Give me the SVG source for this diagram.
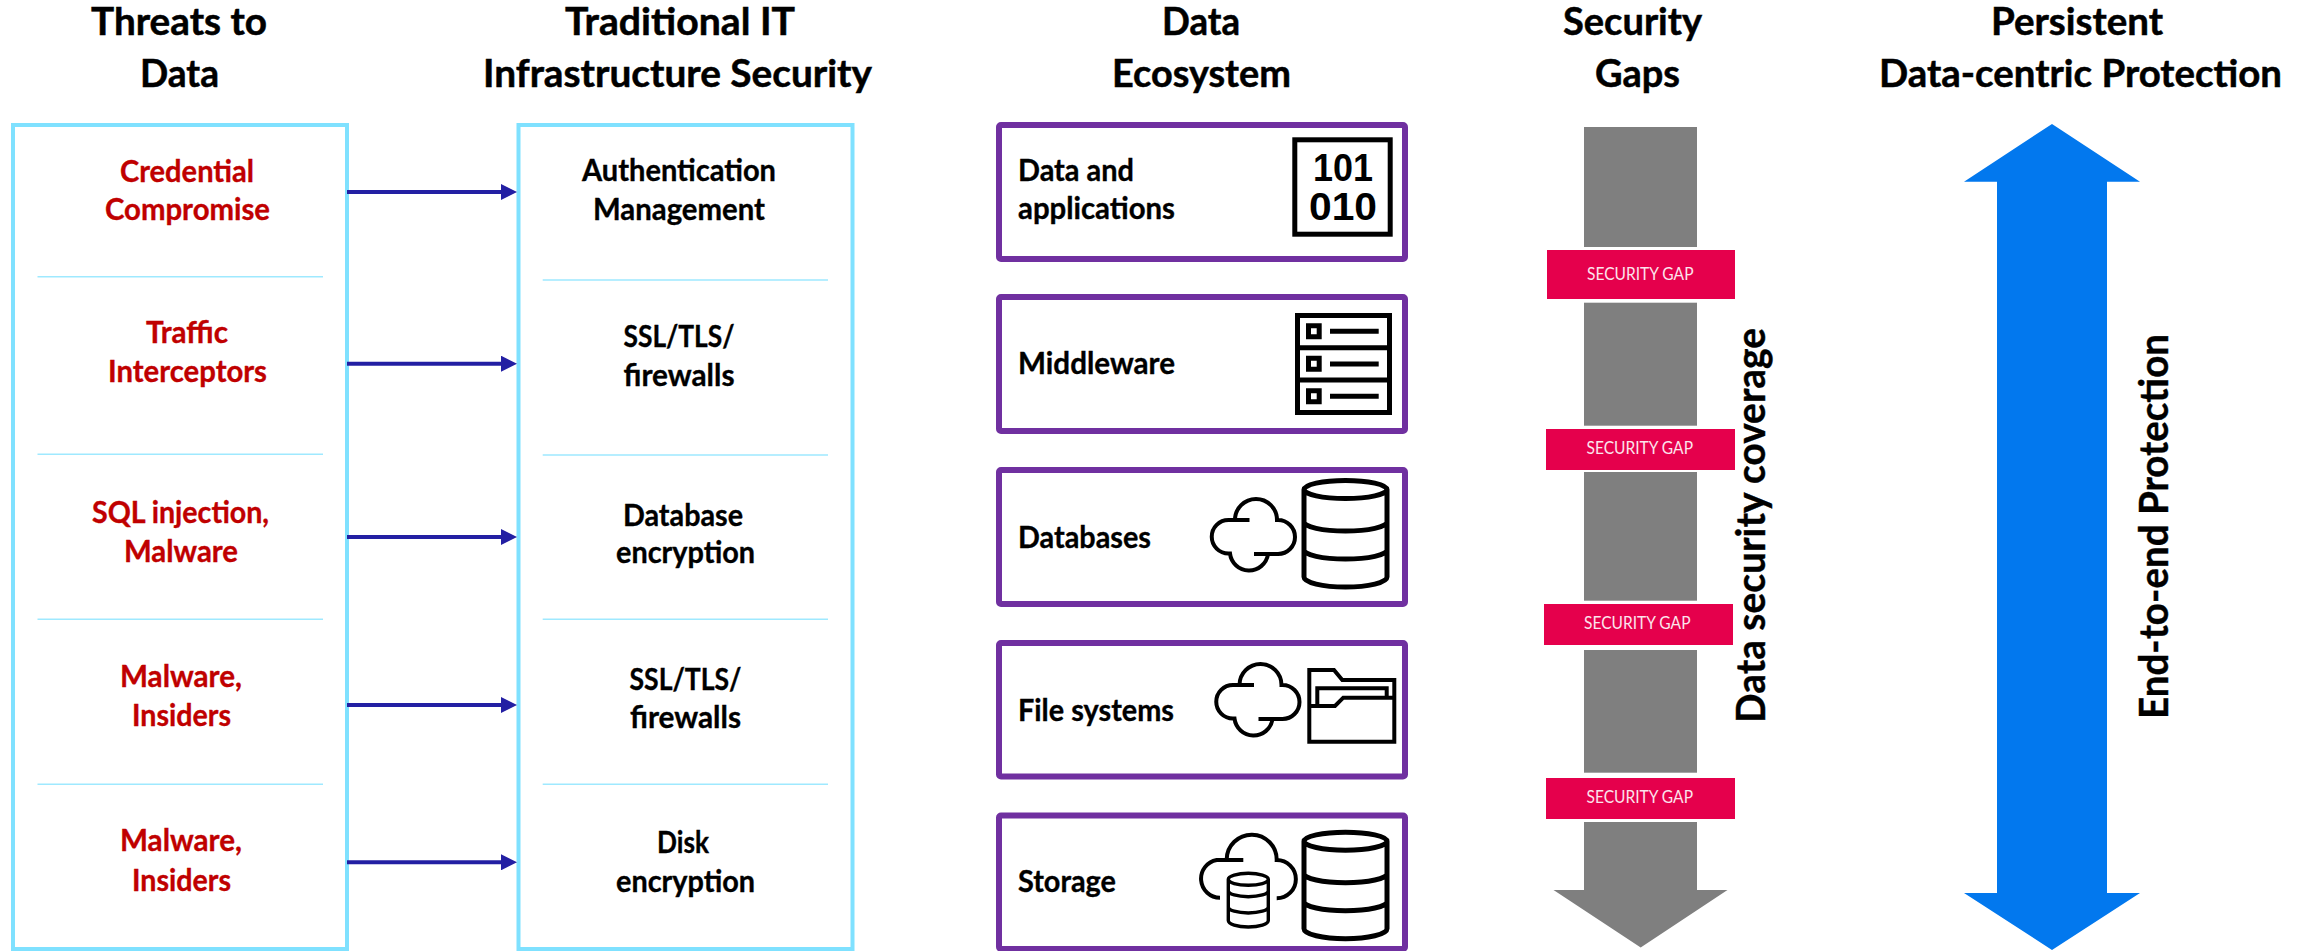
<svg xmlns="http://www.w3.org/2000/svg" width="2307" height="951" viewBox="0 0 2307 951">
<style>
text{font-family:"Lato","Open Sans","Liberation Sans",sans-serif;font-weight:700}
.h{font-size:38px;fill:#000;stroke:#000;stroke-width:.5}
.r{font-size:30px;fill:#C00000;stroke:#C00000;stroke-width:.35}
.k{font-size:30px;fill:#000;stroke:#000;stroke-width:.35}
.g{font-size:17px;fill:#FCE4EC;font-weight:400}
.v{font-size:40px;fill:#000;stroke:#000;stroke-width:.4}
.bx{fill:#fff;stroke:#7FE1FF;stroke-width:4}
.dv{stroke:#9FE9FF;stroke-width:1.5;fill:none}
.eco{fill:#fff;stroke:#7030A0;stroke-width:6}
.ic{fill:none;stroke:#000;stroke-width:5}
.ict{fill:none;stroke:#000;stroke-width:4}
.cn{stroke:#231FA3;stroke-width:4;fill:none;marker-end:url(#ah)}
.gy{fill:#7F7F7F}
.gp{fill:#E5004C}
.bin{font-family:"Liberation Sans",Arial,sans-serif;font-size:39px;fill:#000}
</style>
<defs>
<marker id="ah" markerUnits="userSpaceOnUse" markerWidth="16" markerHeight="16" refX="1" refY="8" orient="auto"><path d="M0 0L16 8L0 16Z" fill="#231FA3"/></marker>
<path id="cloud" d="M69.5 230H48.5A16.7 16.7 0 0 0 48.5 263.5H50A19.2 19.2 0 0 0 88 264.5M74 264H98A17 17 0 0 0 98 230H97A21 21 0 0 0 55 230"/>
<path id="bigdb" d="M1304 489.5V577A41.5 10 0 0 0 1387 577V489.5M1304 489.5A41.5 9 0 0 1 1387 489.5A41.5 9 0 0 1 1304 489.5M1304 522A41.5 9 0 0 0 1387 522M1304 550A41.5 9 0 0 0 1387 550"/>
</defs>

<g id="headers">
<text class="h" x="91" y="35" textLength="176" lengthAdjust="spacingAndGlyphs">Threats to</text>
<text class="h" x="140" y="87" textLength="79" lengthAdjust="spacingAndGlyphs">Data</text>
<text class="h" x="565" y="35" textLength="230" lengthAdjust="spacingAndGlyphs">Traditional IT</text>
<text class="h" x="483" y="87" textLength="389" lengthAdjust="spacingAndGlyphs">Infrastructure Security</text>
<text class="h" x="1162" y="35" textLength="78" lengthAdjust="spacingAndGlyphs">Data</text>
<text class="h" x="1112" y="87" textLength="179" lengthAdjust="spacingAndGlyphs">Ecosystem</text>
<text class="h" x="1563" y="35" textLength="139" lengthAdjust="spacingAndGlyphs">Security</text>
<text class="h" x="1595" y="87" textLength="85" lengthAdjust="spacingAndGlyphs">Gaps</text>
<text class="h" x="1991" y="35" textLength="172" lengthAdjust="spacingAndGlyphs">Persistent</text>
<text class="h" x="1879" y="87" textLength="403" lengthAdjust="spacingAndGlyphs">Data-centric Protection</text>
</g>

<g id="threats">
<rect class="bx" x="13" y="125" width="334" height="824"/>
<path class="dv" d="M37.5 276.7H323M37.5 454.3H323M37.5 619.3H323M37.5 784.3H323"/>
<text class="r" x="120" y="182" textLength="134" lengthAdjust="spacingAndGlyphs">Credential</text>
<text class="r" x="105" y="220" textLength="165" lengthAdjust="spacingAndGlyphs">Compromise</text>
<text class="r" x="146" y="343" textLength="82" lengthAdjust="spacingAndGlyphs">Traffic</text>
<text class="r" x="108" y="382" textLength="159" lengthAdjust="spacingAndGlyphs">Interceptors</text>
<text class="r" x="92" y="523" textLength="177" lengthAdjust="spacingAndGlyphs">SQL injection,</text>
<text class="r" x="124" y="562" textLength="114" lengthAdjust="spacingAndGlyphs">Malware</text>
<text class="r" x="120" y="687" textLength="122" lengthAdjust="spacingAndGlyphs">Malware,</text>
<text class="r" x="132" y="726" textLength="99" lengthAdjust="spacingAndGlyphs">Insiders</text>
<text class="r" x="120" y="851" textLength="122" lengthAdjust="spacingAndGlyphs">Malware,</text>
<text class="r" x="132" y="891" textLength="99" lengthAdjust="spacingAndGlyphs">Insiders</text>
</g>

<g id="traditional">
<rect class="bx" x="518.5" y="125" width="334" height="824"/>
<path class="dv" d="M542.7 280H828M542.7 455H828M542.7 619.3H828M542.7 784.3H828"/>
<text class="k" x="582" y="181" textLength="194" lengthAdjust="spacingAndGlyphs">Authentication</text>
<text class="k" x="593" y="219.5" textLength="172" lengthAdjust="spacingAndGlyphs">Management</text>
<text class="k" x="623.5" y="347" textLength="111" lengthAdjust="spacingAndGlyphs">SSL/TLS/</text>
<text class="k" x="623.5" y="386" textLength="111" lengthAdjust="spacingAndGlyphs">firewalls</text>
<text class="k" x="623" y="525.5" textLength="120" lengthAdjust="spacingAndGlyphs">Database</text>
<text class="k" x="616" y="563" textLength="139" lengthAdjust="spacingAndGlyphs">encryption</text>
<text class="k" x="629.5" y="689.5" textLength="112" lengthAdjust="spacingAndGlyphs">SSL/TLS/</text>
<text class="k" x="630" y="728" textLength="111" lengthAdjust="spacingAndGlyphs">firewalls</text>
<text class="k" x="657" y="853" textLength="52" lengthAdjust="spacingAndGlyphs">Disk</text>
<text class="k" x="616" y="892" textLength="139" lengthAdjust="spacingAndGlyphs">encryption</text>
</g>

<g id="connectors">
<path class="cn" d="M347 192H502"/>
<path class="cn" d="M347 363.7H502"/>
<path class="cn" d="M347 537H502"/>
<path class="cn" d="M347 705H502"/>
<path class="cn" d="M347 862.3H502"/>
</g>

<g id="eco-data">
<rect class="eco" x="999" y="125" width="406" height="134" rx="2"/>
<text class="k" x="1018" y="181" textLength="116" lengthAdjust="spacingAndGlyphs">Data and</text>
<text class="k" x="1018" y="219.3" textLength="157" lengthAdjust="spacingAndGlyphs">applications</text>
<rect class="ic" x="1294.8" y="139.8" width="95.4" height="94.4"/>
<text class="bin" x="1313" y="181" textLength="60" lengthAdjust="spacingAndGlyphs">101</text>
<text class="bin" x="1309" y="220" textLength="68" lengthAdjust="spacingAndGlyphs">010</text>
</g>

<g id="eco-middleware">
<rect class="eco" x="999" y="297" width="406" height="134" rx="2"/>
<text class="k" x="1018" y="374.3" textLength="157" lengthAdjust="spacingAndGlyphs">Middleware</text>
<path d="M1297.5 315.5H1389.5V412.5H1297.5ZM1297.5 347.7H1389.5M1297.5 380H1389.5M1330 331.3H1378.7M1330 364H1378.7M1330 396.3H1378.7" fill="none" stroke="#000" stroke-width="5"/>
<path d="M1308.5 325.8H1319.2V336.8H1308.5ZM1308.5 358.2H1319.2V369.2H1308.5ZM1308.5 390.8H1319.2V401.8H1308.5Z" fill="none" stroke="#000" stroke-width="5"/>
</g>

<g id="eco-databases">
<rect class="eco" x="999" y="470" width="406" height="134" rx="2"/>
<text class="k" x="1018" y="547.7" textLength="133" lengthAdjust="spacingAndGlyphs">Databases</text>
<use href="#cloud" class="ict" transform="translate(1180 290)"/>
<use href="#bigdb" class="ic"/>
</g>

<g id="eco-files">
<rect class="eco" x="999" y="643" width="406" height="133.5" rx="2"/>
<text class="k" x="1018" y="720.7" textLength="156" lengthAdjust="spacingAndGlyphs">File systems</text>
<use href="#cloud" class="ict" transform="translate(1184.5 455)"/>
<path class="ict" d="M1309.3 670H1334L1342.3 680H1394.3V741.7H1309.3ZM1309.3 706H1335L1343.3 697.7H1394.3M1317.3 705V688.3H1386.7V696.7"/>
</g>

<g id="eco-storage">
<rect class="eco" x="999" y="815.5" width="406" height="133.5" rx="2"/>
<text class="k" x="1018" y="892.3" textLength="98" lengthAdjust="spacingAndGlyphs">Storage</text>
<use href="#bigdb" class="ic" transform="translate(0 351.7)"/>
<path class="ict" d="M1243.3 860H1216.7A19 19 0 0 0 1220 897.7M1226.7 859.3A25 25 0 0 1 1276.7 860A19 19 0 0 1 1276.7 898.3"/>
<path fill="none" stroke="#000" stroke-width="3.4" d="M1228.3 879.3V920.5A20 6.5 0 0 0 1268.3 920.5V879.3M1228.3 879.3A20 6 0 0 1 1268.3 879.3A20 6 0 0 1 1228.3 879.3M1228.3 890.7A20 6 0 0 0 1268.3 890.7M1228.3 907A20 6 0 0 0 1268.3 907"/>
</g>

<g id="security-gaps">
<rect class="gy" x="1584" y="127" width="113" height="120"/>
<rect class="gy" x="1584" y="302.7" width="113" height="123"/>
<rect class="gy" x="1584" y="472" width="113" height="128.7"/>
<rect class="gy" x="1584" y="650" width="113" height="122.7"/>
<path class="gy" d="M1584 822H1697V890H1727.5L1640.7 947.5L1553.5 890H1584Z"/>
<rect class="gp" x="1547" y="250" width="188" height="49"/>
<text class="g" x="1587" y="279.5" textLength="106.5" lengthAdjust="spacingAndGlyphs">SECURITY GAP</text>
<rect class="gp" x="1546" y="429" width="189" height="41"/>
<text class="g" x="1586.5" y="454" textLength="106.5" lengthAdjust="spacingAndGlyphs">SECURITY GAP</text>
<rect class="gp" x="1544" y="604" width="189" height="41"/>
<text class="g" x="1584" y="629.3" textLength="106.5" lengthAdjust="spacingAndGlyphs">SECURITY GAP</text>
<rect class="gp" x="1546" y="778" width="189" height="41"/>
<text class="g" x="1586.5" y="803.3" textLength="106.5" lengthAdjust="spacingAndGlyphs">SECURITY GAP</text>
<text class="v" transform="translate(1765 723) rotate(-90)" textLength="395" lengthAdjust="spacingAndGlyphs">Data security coverage</text>
</g>

<g id="protection">
<path d="M2052 124L2140 181.7H2107V893H2140L2052 950L1964 893H1997V181.7H1964Z" fill="#0278EE"/>
<text class="v" transform="translate(2168.3 719) rotate(-90)" textLength="385" lengthAdjust="spacingAndGlyphs">End-to-end Protection</text>
</g>
</svg>
